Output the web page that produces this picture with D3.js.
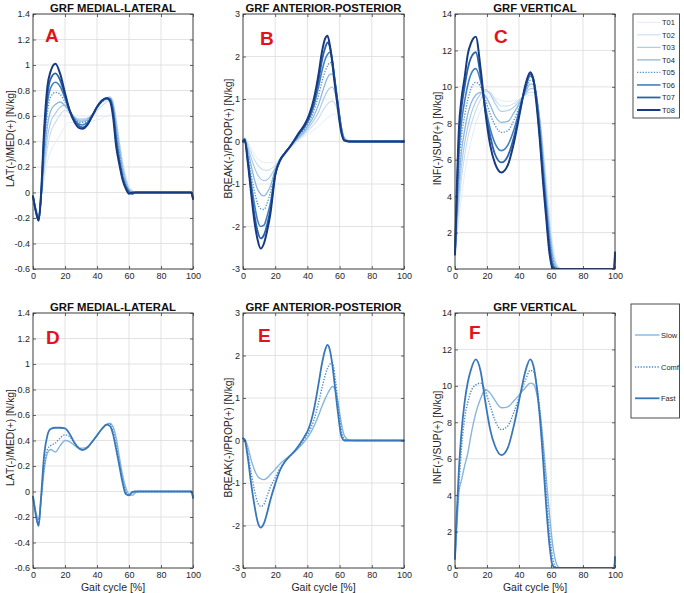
<!DOCTYPE html>
<html><head><meta charset="utf-8">
<script src="https://cdn.jsdelivr.net/npm/d3@7"></script>
<style>
body{margin:0;background:#fff;}
svg{display:block;font-family:"Liberation Sans",Arial,Helvetica,sans-serif;}
</style>
</head><body>
<svg id="c" width="684" height="593"></svg>
<script>
// ---------- tick labels ----------
const xTicks = [0,20,40,60,80,100];
const yTicksML = [-0.6,-0.4,-0.2,0,0.2,0.4,0.6,0.8,1,1.2,1.4];
const yTicksAP = [-3,-2,-1,0,1,2,3];
const yTicksV = [0,2,4,6,8,10,12,14];

// ---------- categories ----------
const trialNames = ["T01","T02","T03","T04","T05","T06","T07","T08"];
const speedNames = ["Slow","Comf","Fast"];

// ---------- gait cycle samples (%) ----------
const xML = [0,2,3.5,5,7,9,11,14,17,20,23,26,29,31,34,37,40,43,46,48,50,52,54,56,58,60,62,64,66,70,99,100];
const xAP = [0,1,3,5,7,9,11,13,15,17,20,23,26,29,32,35,38,41,44,47,49,51,52.5,54,55.5,57,59,61,63,66,70,99,100];
const xV  = [0,1,2.5,4,6,8,10,13,16,19,22,25,29,33,37,41,44,47,49,51,53,55,57,59,61,63,65,67,70,99,99.5,100];

// ---------- A: medial-lateral, trials ----------
const mlT01 = [-0.03,-0.12,-0.16,-0.05,0.1,0.24,0.32,0.39,0.45,0.52,0.55,0.55,0.54,0.54,0.55,0.56,0.57,0.58,0.6,0.61,0.59,0.5,0.37,0.24,0.12,0.05,0.02,0,0,0,0,-0.03];
const mlT02 = [-0.03,-0.13,-0.18,-0.05,0.16,0.35,0.47,0.55,0.61,0.645,0.62,0.59,0.58,0.58,0.585,0.6,0.64,0.68,0.71,0.72,0.69,0.57,0.4,0.24,0.12,0.04,0.01,0,0,0,0,-0.04];
const mlT03 = [-0.03,-0.14,-0.19,-0.05,0.21,0.43,0.55,0.62,0.67,0.685,0.64,0.59,0.57,0.57,0.58,0.61,0.66,0.71,0.74,0.75,0.71,0.56,0.38,0.21,0.1,0.03,0.01,0,0,0,0,-0.05];
const mlT04 = [-0.03,-0.15,-0.2,-0.05,0.27,0.52,0.64,0.69,0.71,0.68,0.63,0.58,0.56,0.56,0.57,0.61,0.67,0.71,0.735,0.74,0.69,0.52,0.34,0.18,0.08,0.02,0,0,0,0,0,-0.05];
const mlT05 = [-0.03,-0.15,-0.21,-0.04,0.33,0.62,0.75,0.785,0.77,0.71,0.64,0.58,0.55,0.55,0.56,0.61,0.67,0.71,0.73,0.735,0.67,0.48,0.3,0.15,0.06,0.01,-0.01,0,0,0,0,-0.05];
const mlT06 = [-0.03,-0.16,-0.22,-0.04,0.4,0.7,0.82,0.865,0.83,0.74,0.64,0.57,0.535,0.53,0.55,0.6,0.67,0.72,0.74,0.735,0.65,0.44,0.26,0.13,0.05,0.01,-0.01,0,0,0,0,-0.05];
const mlT07 = [-0.03,-0.16,-0.22,-0.03,0.45,0.76,0.89,0.935,0.88,0.76,0.64,0.56,0.52,0.51,0.535,0.6,0.67,0.72,0.74,0.73,0.63,0.4,0.24,0.11,0.04,0,-0.01,0,0,0,0,-0.05];
const mlT08 = [-0.03,-0.16,-0.22,-0.02,0.5,0.83,0.95,1.01,0.93,0.78,0.64,0.55,0.505,0.5,0.53,0.6,0.67,0.72,0.74,0.72,0.6,0.36,0.22,0.1,0.03,-0.01,0,0,0,0,0,-0.05];

// ---------- B: anterior-posterior, trials ----------
const apT01 = [0.1,0.1,0.0,-0.15,-0.3,-0.4,-0.46,-0.49,-0.5,-0.5,-0.48,-0.4,-0.3,-0.18,-0.06,0.04,0.12,0.19,0.27,0.36,0.44,0.51,0.56,0.6,0.63,0.65,0.52,0.27,0.09,0.02,0,0.02,0.08];
const apT02 = [0.07,0.08,-0.05,-0.25,-0.42,-0.55,-0.63,-0.67,-0.68,-0.65,-0.57,-0.42,-0.3,-0.17,-0.04,0.07,0.17,0.28,0.4,0.55,0.69,0.81,0.88,0.93,0.95,0.9,0.68,0.32,0.09,0.01,0,0.01,0.05];
const apT03 = [0.05,0.07,-0.12,-0.38,-0.6,-0.78,-0.88,-0.92,-0.9,-0.82,-0.62,-0.42,-0.29,-0.15,-0.02,0.1,0.21,0.34,0.5,0.7,0.9,1.08,1.19,1.26,1.28,1.16,0.82,0.37,0.09,0.01,0,0,0.03];
const apT04 = [0.03,0.06,-0.2,-0.55,-0.88,-1.12,-1.24,-1.28,-1.2,-1.05,-0.66,-0.42,-0.28,-0.14,-0.01,0.12,0.24,0.4,0.6,0.88,1.12,1.36,1.5,1.58,1.59,1.38,0.9,0.37,0.07,0.01,0,0,0.02];
const apT05 = [0.02,0.05,-0.3,-0.75,-1.15,-1.45,-1.58,-1.6,-1.45,-1.2,-0.72,-0.42,-0.27,-0.13,0.01,0.15,0.28,0.46,0.72,1.1,1.4,1.65,1.78,1.86,1.75,1.42,0.88,0.34,0.05,0,0,0,0];
const apT06 = [0,0.05,-0.4,-0.95,-1.45,-1.85,-2.0,-1.97,-1.75,-1.45,-0.76,-0.43,-0.27,-0.13,0.02,0.18,0.32,0.52,0.83,1.3,1.65,1.93,2.05,2.1,1.88,1.45,0.88,0.32,0.04,0,0,0,0];
const apT07 = [0,0.05,-0.45,-1.1,-1.7,-2.1,-2.28,-2.2,-1.95,-1.6,-0.78,-0.44,-0.27,-0.13,0.03,0.2,0.35,0.57,0.92,1.45,1.9,2.2,2.33,2.22,1.9,1.45,0.85,0.28,0.03,0,0,0,0];
const apT08 = [0,0.05,-0.5,-1.2,-1.85,-2.3,-2.52,-2.4,-2.1,-1.7,-0.8,-0.45,-0.28,-0.13,0.04,0.22,0.38,0.62,1.0,1.6,2.1,2.42,2.49,2.25,1.85,1.35,0.75,0.22,0.02,0,0,0,0];

// ---------- C: vertical, trials ----------
const vT01 = [0.7,1.5,2.8,3.9,5.2,6.2,7.0,8.0,8.7,9.2,9.45,9.4,9.25,9.2,9.25,9.35,9.45,9.55,9.5,9.1,8.2,6.8,5.0,3.2,1.5,0.5,0.1,0.01,0,0,0,0.8];
const vT02 = [0.8,1.8,3.5,4.9,6.2,7.2,7.9,8.7,9.3,9.75,9.7,9.3,8.95,8.95,9.1,9.35,9.55,9.7,9.7,9.3,8.3,6.6,4.6,2.7,1.1,0.32,0.05,0,0,0,0,0.85];
const vT03 = [0.8,2.1,4.1,5.6,6.9,7.8,8.5,9.2,9.6,9.85,9.6,9.1,8.65,8.7,8.9,9.3,9.6,9.9,9.9,9.4,8.2,6.4,4.3,2.4,0.9,0.22,0.03,0,0,0,0,0.85];
const vT04 = [0.8,2.4,4.8,6.4,7.6,8.5,9.1,9.55,9.7,9.5,9.0,8.4,8.05,8.1,8.6,9.2,9.7,10.15,10.15,9.5,8.1,6.1,4.0,2.1,0.7,0.12,0.01,0,0,0,0,0.9];
const vT05 = [0.8,2.8,5.6,7.2,8.4,9.3,9.9,10.25,10.0,9.3,8.5,7.9,7.5,7.6,8.2,9.1,9.8,10.35,10.3,9.5,7.9,5.8,3.7,1.8,0.5,0.06,0,0,0,0,0,0.9];
const vT06 = [0.8,3.2,6.4,8.0,9.2,10.1,10.7,11.0,10.3,8.9,7.7,6.9,6.5,6.8,7.7,9.0,9.9,10.6,10.4,9.4,7.6,5.5,3.4,1.5,0.3,0.02,0,0,0,0,0,0.9];
const vT07 = [0.8,3.6,7.2,8.8,10.0,11.0,11.6,11.9,10.6,8.7,7.3,6.3,5.85,6.2,7.3,8.9,10.0,10.7,10.4,9.2,7.3,5.1,3.1,1.2,0.15,0,0,0,0,0,0,0.9];
const vT08 = [0.8,4.0,7.8,9.3,10.5,11.8,12.4,12.75,11.0,8.6,6.8,5.8,5.3,5.7,7.0,8.8,10.1,10.8,10.4,9.0,7.1,4.8,2.8,0.9,0.05,0,0,0,0,0,0,0.9];

// ---------- D/E/F: speeds ----------
const mlSlow = [-0.04,-0.17,-0.22,-0.07,0.17,0.3,0.33,0.31,0.36,0.4,0.39,0.36,0.34,0.34,0.35,0.39,0.44,0.49,0.525,0.535,0.51,0.42,0.27,0.13,0.03,-0.02,-0.03,-0.01,0,0,0,-0.05];
const mlComf = [-0.04,-0.19,-0.26,-0.07,0.2,0.33,0.36,0.38,0.42,0.445,0.43,0.38,0.34,0.33,0.345,0.39,0.44,0.49,0.525,0.53,0.48,0.37,0.22,0.09,0.0,-0.03,-0.01,0,0,0,0,-0.05];
const mlFast = [-0.04,-0.2,-0.27,-0.05,0.29,0.44,0.49,0.5,0.5,0.495,0.45,0.38,0.335,0.325,0.345,0.39,0.44,0.49,0.525,0.515,0.45,0.33,0.2,0.07,-0.02,-0.03,-0.005,0,0,0,0,-0.05];

const apSlow = [0.05,0.04,-0.15,-0.45,-0.68,-0.84,-0.9,-0.92,-0.88,-0.8,-0.68,-0.55,-0.45,-0.36,-0.27,-0.16,-0.03,0.12,0.33,0.6,0.8,0.98,1.1,1.2,1.27,1.22,0.9,0.42,0.11,0.01,0,0,0];
const apComf = [0.05,0.03,-0.3,-0.75,-1.15,-1.45,-1.55,-1.5,-1.3,-1.1,-0.88,-0.65,-0.5,-0.37,-0.25,-0.12,0.03,0.2,0.48,0.9,1.23,1.53,1.7,1.8,1.83,1.55,0.88,0.27,0.03,0,0,0,0];
const apFast = [0.05,0.02,-0.4,-1.0,-1.5,-1.9,-2.05,-1.95,-1.7,-1.4,-1.02,-0.7,-0.5,-0.37,-0.25,-0.1,0.08,0.3,0.72,1.35,1.8,2.13,2.25,2.12,1.78,1.3,0.65,0.12,0,0,0,0,0];

const vSlow = [0.5,2.0,4.2,4.8,5.6,6.3,7.3,8.5,9.3,9.8,9.6,9.2,8.8,8.85,9.2,9.6,9.9,10.15,10.1,9.6,8.6,7.0,5.0,3.0,1.3,0.35,0.03,0,0,0,0,0.6];
const vComf = [0.5,2.4,4.6,6.5,8.2,9.1,9.7,10.05,10.15,9.7,8.9,8.1,7.6,7.8,8.6,9.6,10.3,10.85,10.8,10.1,8.7,6.6,4.2,2.0,0.6,0.05,0,0,0,0,0,0.6];
const vFast = [0.5,2.8,5.5,7.4,9.1,10.2,10.9,11.45,10.8,9.1,7.6,6.7,6.2,6.6,7.9,9.6,10.8,11.45,11.1,10.0,8.3,6.0,3.4,1.3,0.15,0,0,0,0,0,0,0.6];

// ---------- styles ----------
const trialColors = ["#e2ecf7","#c9ddf0","#adcbe7","#8db8dc","#5893cb","#4281c0","#2b62a9","#173b82"];
const trialWidths = [1,1.1,1.2,1.3,1.4,1.6,1.8,2.0];
const trialDash   = [null,null,null,null,"1.3,1.5",null,null,null];
const speedColors = ["#86b6dd","#4a89c5","#3877ba"];
const speedWidths = [1.4,1.4,1.8];
const speedDash   = [null,"1.3,1.5",null];

const cols = [[33,193],[243,404],[455,615]];
const rows = [[14,269],[313,568]];

const panels = [
  {c:0,r:0,xs:xML,series:[mlT01,mlT02,mlT03,mlT04,mlT05,mlT06,mlT07,mlT08],colors:trialColors,widths:trialWidths,dash:trialDash,
   dom:[-0.6,1.4],yt:yTicksML,title:"GRF MEDIAL-LATERAL",ylab:"LAT(-)/MED(+) [N/kg]",ylx:13.5,letter:"A",la:[7.5,1.18]},
  {c:1,r:0,xs:xAP,series:[apT01,apT02,apT03,apT04,apT05,apT06,apT07,apT08],colors:trialColors,widths:trialWidths,dash:trialDash,
   dom:[-3,3],yt:yTicksAP,title:"GRF ANTERIOR-POSTERIOR",ylab:"BREAK(-)/PROP(+) [N/kg]",ylx:231.5,letter:"B",la:[10.6,2.27]},
  {c:2,r:0,xs:xV,series:[vT01,vT02,vT03,vT04,vT05,vT06,vT07,vT08],colors:trialColors,widths:trialWidths,dash:trialDash,
   dom:[0,14],yt:yTicksV,title:"GRF VERTICAL",ylab:"INF(-)/SUP(+) [N/kg]",ylx:441,letter:"C",la:[24.4,12.4]},
  {c:0,r:1,xs:xML,series:[mlSlow,mlComf,mlFast],colors:speedColors,widths:speedWidths,dash:speedDash,
   dom:[-0.6,1.4],yt:yTicksML,title:"GRF MEDIAL-LATERAL",ylab:"LAT(-)/MED(+) [N/kg]",ylx:13.5,letter:"D",la:[8.1,1.16]},
  {c:1,r:1,xs:xAP,series:[apSlow,apComf,apFast],colors:speedColors,widths:speedWidths,dash:speedDash,
   dom:[-3,3],yt:yTicksAP,title:"GRF ANTERIOR-POSTERIOR",ylab:"BREAK(-)/PROP(+) [N/kg]",ylx:231.5,letter:"E",la:[9.3,2.32]},
  {c:2,r:1,xs:xV,series:[vSlow,vComf,vFast],colors:speedColors,widths:speedWidths,dash:speedDash,
   dom:[0,14],yt:yTicksV,title:"GRF VERTICAL",ylab:"INF(-)/SUP(+) [N/kg]",ylx:441,letter:"F",la:[8.75,12.6]}
];

const svg = d3.select("#c");
const ink = "#262626";

panels.forEach((p,i)=>{
  const [x0,x1] = cols[p.c], [y0,y1] = rows[p.r];
  const x = d3.scaleLinear().domain([0,100]).range([x0,x1]);
  const y = d3.scaleLinear().domain(p.dom).range([y1,y0]);
  const g = svg.append("g");

  // grid
  g.append("g").selectAll("line").data(xTicks).join("line")
    .attr("x1",d=>x(d)).attr("x2",d=>x(d)).attr("y1",y0).attr("y2",y1)
    .attr("stroke","#dcdcdc").attr("stroke-width",0.8);
  g.append("g").selectAll("line").data(p.yt).join("line")
    .attr("y1",d=>y(d)).attr("y2",d=>y(d)).attr("x1",x0).attr("x2",x1)
    .attr("stroke","#dcdcdc").attr("stroke-width",0.8);

  // clip
  const cid = "clip"+i;
  svg.append("clipPath").attr("id",cid).append("rect")
    .attr("x",x0-1.5).attr("y",y0).attr("width",x1-x0+3).attr("height",y1-y0);

  const line = d3.line().x(d=>x(d[0])).y(d=>y(d[1])).curve(d3.curveMonotoneX);
  const lg = g.append("g").attr("clip-path",`url(#${cid})`);
  p.series.forEach((s,k)=>{
    lg.append("path").attr("d",line(p.xs.map((xv,j)=>[xv,s[j]])))
      .attr("fill","none").attr("stroke",p.colors[k]).attr("stroke-width",p.widths[k])
      .attr("stroke-linejoin","round").attr("stroke-linecap",p.dash[k]?"butt":"round")
      .attr("stroke-dasharray",p.dash[k]);
  });

  // axes (inward ticks)
  const styleAxis = (a)=>{ a.select(".domain").remove(); a.selectAll(".tick line").attr("stroke",ink).attr("stroke-width",0.7);
    a.selectAll("text").attr("fill",ink).attr("font-size",9).attr("font-family","Liberation Sans, Arial, sans-serif"); };
  styleAxis(g.append("g").attr("transform",`translate(${x0},0)`)
    .call(d3.axisLeft(y).tickValues(p.yt).tickSizeInner(-3).tickSizeOuter(0).tickPadding(3).tickFormat(d=>String(d))));
  styleAxis(g.append("g").attr("transform",`translate(0,${y1})`)
    .call(d3.axisBottom(x).tickValues(xTicks).tickSizeInner(-3).tickSizeOuter(0).tickPadding(3.5).tickFormat(d=>String(d))));
  styleAxis(g.append("g").attr("transform",`translate(${x1},0)`)
    .call(d3.axisRight(y).tickValues(p.yt).tickSizeInner(-3).tickSizeOuter(0).tickFormat("")));
  styleAxis(g.append("g").attr("transform",`translate(0,${y0})`)
    .call(d3.axisTop(x).tickValues(xTicks).tickSizeInner(-3).tickSizeOuter(0).tickFormat("")));

  // box
  g.append("rect").attr("x",x0).attr("y",y0).attr("width",x1-x0).attr("height",y1-y0)
    .attr("fill","none").attr("stroke","#3a3a3a").attr("stroke-width",0.9);

  // title
  g.append("text").attr("x",(x0+x1)/2).attr("y",y0-2.5).attr("text-anchor","middle")
    .attr("font-size",11.3).attr("font-weight","bold").attr("fill","#111").text(p.title);

  // y label
  g.append("text").attr("transform",`translate(${p.ylx},${(y0+y1)/2-3}) rotate(-90)`)
    .attr("text-anchor","middle").attr("font-size",10.3).attr("fill",ink).text(p.ylab);

  // x label
  if (p.r===1) g.append("text").attr("x",(x0+x1)/2).attr("y",590.5).attr("text-anchor","middle")
    .attr("font-size",10.5).attr("fill",ink).text("Gait cycle [%]");

  // panel letter
  g.append("text").attr("x",x(p.la[0])).attr("y",y(p.la[1]))
    .attr("font-size",19).attr("font-weight","bold").attr("fill","#e5121b").text(p.letter);
});

// ---------- legends ----------
function legend(names, colors, widths, dash, box, ys, lx0, lx1){
  const g = svg.append("g");
  g.append("rect").attr("x",box[0]).attr("y",box[1]).attr("width",box[2]-box[0]).attr("height",box[3]-box[1])
    .attr("fill","#fff").attr("stroke","#3a3a3a").attr("stroke-width",0.9);
  names.forEach((n,k)=>{
    g.append("line").attr("x1",lx0).attr("x2",lx1).attr("y1",ys[k]).attr("y2",ys[k])
      .attr("stroke",colors[k]).attr("stroke-width",widths[k]).attr("stroke-dasharray",dash[k]);
    g.append("text").attr("x",lx1+1.5).attr("y",ys[k]+2.7).attr("font-size",7.5).attr("fill",ink).text(n);
  });
}
legend(trialNames, trialColors, trialWidths, trialDash, [633,14,679.5,118],
       trialNames.map((_,k)=>22.3+k*12.53), 637, 660.5);
legend(speedNames, speedColors, speedWidths, speedDash, [631,304,679.5,418],
       [335,367,398.3], 635, 659.5);
</script>
</body></html>
